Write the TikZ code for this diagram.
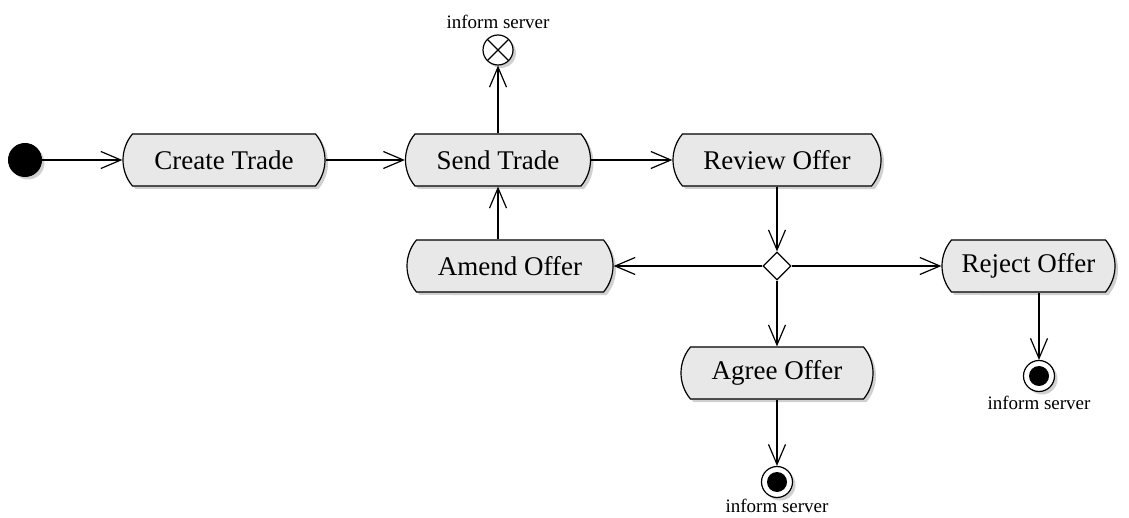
\documentclass[tikz,border=0pt]{standalone}
\usepackage{fontspec}
\setmainfont{Liberation Serif}
\usetikzlibrary{shapes.misc,shapes.geometric,shadows,arrows.meta}
\definecolor{actfill}{RGB}{232,232,232}
\definecolor{shade}{RGB}{170,170,170}
\tikzset{
  myshadow/.style={drop shadow={shadow xshift=3pt,shadow yshift=-3pt,fill=shade,opacity=0.55}},
  action/.style={rounded rectangle, rounded rectangle arc length=80, draw, line width=1.2pt,
    fill=actfill, myshadow, minimum height=52pt, inner xsep=0pt,
    font=\fontsize{27}{30}\selectfont},
  startnode/.style={circle, fill=black, draw, line width=1pt, minimum size=33pt, inner sep=0pt, myshadow},
  endnode/.style={circle, draw, line width=1.2pt, fill=white, minimum size=31pt, inner sep=0pt, myshadow,
    path picture={\fill[black] (path picture bounding box.center) circle (10pt);}},
  flowend/.style={circle, draw, line width=1.2pt, fill=white, minimum size=30pt, inner sep=0pt, myshadow,
    path picture={\draw[line width=1.2pt] (path picture bounding box.south west) -- (path picture bounding box.north east)
      (path picture bounding box.north west) -- (path picture bounding box.south east);}},
  decision/.style={diamond, draw, line width=1.2pt, fill=white, minimum width=28pt, minimum height=28pt, inner sep=0pt},
  lbl/.style={font=\fontsize{19}{22}\selectfont, inner sep=0pt},
  flow/.style={line width=1.2pt, -{Straight Barb[length=20pt,width=17pt,line width=1.2pt]}}
}
\begin{document}
\begin{tikzpicture}[x=1pt,y=-1pt]
\useasboundingbox (0,0) rectangle (1129,518);

% initial node
\node[startnode] (start) at (25,160) {};

% actions
\node[action, minimum width=202pt] (create) at (224,160) {Create Trade};
\node[action, minimum width=185pt] (send)   at (498,160) {Send Trade};
\node[action, minimum width=208pt] (review) at (777,160) {Review Offer};
\node[action, minimum width=206pt] (amend)  at (510,266) {Amend Offer};
\node[action, minimum width=173pt] (reject) at (1028.5,266) {Reject Offer};
\node[action, minimum width=192pt] (agree)  at (777,373) {Agree Offer};

% decision
\node[decision] (dec) at (777,266) {};

% final nodes
\node[flowend] (flowfin) at (498,50) {};
\node[lbl] (flowlbl) at (498,22) {inform server};
\node[endnode] (endagree) at (777,482) {};
\node[lbl] (agreelbl) at (777,506) {inform server};
\node[endnode] (endreject) at (1039,376) {};
\node[lbl] (rejectlbl) at (1039,403) {inform server};

% control flows
\draw[flow] (start.east) -- (create.west);
\draw[flow] (create.east) -- (send.west);
\draw[flow] (send.east) -- (review.west);
\draw[flow] (send.north) -- (flowfin.south);
\draw[flow] (review.south) -- (dec.north);
\draw[flow] (dec.west) -- (amend.east);
\draw[flow] (dec.east) -- (reject.west);
\draw[flow] (dec.south) -- (agree.north);
\draw[flow] (amend.north -| send.south) -- (send.south);
\draw[flow] (agree.south) -- (endagree.north);
\draw[flow] (reject.south -| endreject.north) -- (endreject.north);
\end{tikzpicture}
\end{document}
